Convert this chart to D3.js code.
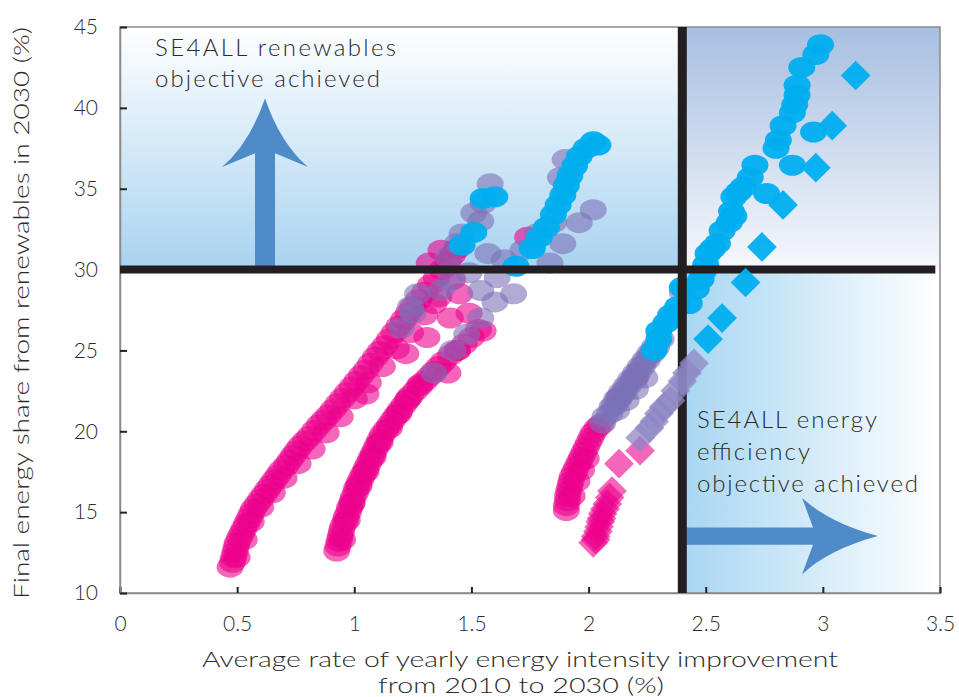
<!DOCTYPE html>
<html><head><meta charset="utf-8">
<script src="https://cdn.jsdelivr.net/npm/d3@7"></script>
<style>
body{margin:0;background:#fff;}
text{font-family:Lato,"Open Sans",sans-serif;font-weight:300;fill:#2b2b2b;}
</style></head><body>
<svg id="chart" width="959" height="697"></svg>
<script>
// Axis ticks and labels
const xTicks = [0, 0.5, 1, 1.5, 2, 2.5, 3, 3.5];
const xTickLabels = ["0", "0.5", "1", "1.5", "2", "2.5", "3", "3.5"];
const yTicks = [10, 15, 20, 25, 30, 35, 40, 45];
const yTickLabels = ["10", "15", "20", "25", "30", "35", "40", "45"];

// SE4ALL objectives
const renewablesTarget = 30;   // % share of renewables in 2030
const efficiencyTarget = 2.4;  // % yearly energy intensity improvement

// Scenario results: [intensity improvement %, renewables share %]
const pinkCircles = [
  // low-efficiency pathway
  [0.47,11.6],[0.48,11.9],[0.485,12.2],[0.49,12.5],[0.495,12.8],[0.50,13.1],[0.51,13.4],[0.52,13.7],
  [0.53,14.0],[0.54,14.3],[0.55,14.6],[0.56,14.9],[0.57,15.2],[0.585,15.5],[0.60,15.8],[0.615,16.1],
  [0.63,16.4],[0.645,16.7],[0.66,17.0],[0.675,17.3],[0.69,17.6],[0.71,17.9],[0.725,18.2],[0.74,18.5],
  [0.755,18.8],[0.77,19.1],[0.79,19.4],[0.81,19.7],[0.83,20.05],[0.85,20.4],[0.87,20.7],[0.89,21.0],
  [0.91,21.35],[0.93,21.7],[0.95,22.05],[0.97,22.4],[0.99,22.75],[1.01,23.1],[1.03,23.45],[1.05,23.8],
  [1.07,24.2],[1.09,24.6],[1.11,24.95],[1.13,25.3],[1.15,25.7],[1.17,26.1],[1.19,26.5],[1.21,26.9],
  [1.23,27.3],[1.25,27.7],[1.275,28.15],[1.30,28.6],[1.325,29.05],[1.35,29.5],[1.375,30.0],[1.40,30.5],
  [1.42,30.9],[1.44,31.3],[1.37,31.2],
  [0.50,12.2],[0.53,13.3],[0.56,14.4],[0.60,15.3],[0.65,16.2],[0.70,17.1],[0.76,18.0],[0.82,18.9],
  [0.88,19.9],[0.94,20.9],[1.00,22.0],[1.06,23.0],[1.12,24.0],[1.18,25.1],[1.24,26.1],[1.30,27.2],
  [1.36,28.3],[1.42,29.4],
  // medium-efficiency pathway
  [0.925,12.6],[0.93,12.9],[0.935,13.2],[0.94,13.5],[0.945,13.8],[0.95,14.1],[0.96,14.4],[0.965,14.7],
  [0.975,15.0],[0.98,15.3],[0.99,15.6],[0.995,15.9],[1.005,16.2],[1.01,16.5],[1.02,16.8],[1.03,17.1],
  [1.04,17.4],[1.05,17.7],[1.06,18.0],[1.07,18.3],[1.08,18.6],[1.09,18.9],[1.10,19.2],[1.11,19.5],
  [1.12,19.8],[1.135,20.1],[1.15,20.4],[1.165,20.7],[1.18,21.0],[1.195,21.3],[1.21,21.6],[1.225,21.9],
  [1.24,22.2],[1.26,22.5],[1.28,22.8],[1.30,23.1],[1.32,23.4],[1.34,23.7],[1.36,24.0],[1.38,24.3],
  [1.41,24.7],[1.44,25.0],[1.47,25.4],[1.50,25.8],[1.53,26.3],
  [0.95,13.3],[0.97,14.5],[0.99,15.5],[1.02,16.6],[1.05,17.5],[1.08,18.4],[1.11,19.3],[1.15,20.2],
  [1.19,21.1],[1.23,22.0],[1.28,22.9],
  [1.31,25.8],[1.22,24.8],[1.34,27.9],[1.41,27.0],[1.45,28.5],[1.49,27.3],[1.55,26.2],[1.44,25.0],
  [1.40,23.6],[1.74,32.0],[1.32,30.4],[1.05,22.3],
  // high-efficiency pathway
  [1.905,15.1],[1.905,15.4],[1.91,15.7],[1.91,16.0],[1.915,16.3],[1.92,16.6],[1.925,16.9],[1.93,17.2],
  [1.94,17.5],[1.95,17.8],[1.96,18.1],[1.97,18.4],[1.98,18.7],[1.99,19.0],[2.00,19.3],[2.01,19.6],
  [2.02,19.9],[2.035,20.2],[2.05,20.4],[1.93,16.0],[1.95,16.9],[1.97,17.6],[1.99,18.3],[2.13,22.1],
  [2.20,23.3]
];
const purpleCircles = [
  [1.58,35.3],[1.55,34.1],[1.51,33.5],[1.54,33.0],[1.46,32.2],[1.57,31.0],[1.44,31.6],[1.40,30.75],
  [1.41,29.3],[1.49,29.8],[1.54,28.7],[1.68,28.5],[1.61,29.5],[1.54,27.0],[1.48,26.0],[1.27,28.5],
  [1.24,27.7],[1.20,26.4],[1.37,28.7],[1.25,27.3],[1.42,25.0],[1.34,23.6],[1.72,31.2],[1.78,32.2],
  [1.85,32.9],[1.88,35.7],[1.90,36.8],[1.835,30.4],[2.02,33.7],[1.96,32.9],[1.89,31.6],[1.64,30.6],
  [1.60,28.0],
  [2.06,20.5],[2.07,20.9],[2.09,21.1],[2.10,21.5],[2.11,21.6],[2.12,22.0],[2.13,22.0],[2.14,22.4],
  [2.15,22.4],[2.16,22.8],[2.17,22.8],[2.18,23.2],[2.19,23.2],[2.20,23.6],[2.21,23.6],[2.22,24.0],
  [2.23,24.0],[2.24,24.4],[2.25,24.4],[2.26,24.8],[2.27,24.8],[2.28,25.2],[2.29,25.2],[2.31,25.7],
  [2.12,21.3],[2.16,21.9],[2.20,22.6],[2.24,23.3],[2.36,27.0],[2.40,28.6]
];
const cyanCircles = [
  [1.55,34.4],[1.60,34.5],[1.51,32.3],[1.46,31.5],
  [1.69,30.2],[1.76,31.3],[1.79,32.0],[1.82,32.6],[1.85,33.4],[1.87,34.0],[1.89,34.6],[1.905,35.2],
  [1.92,35.8],[1.94,36.4],[1.96,37.0],[1.99,37.5],[2.02,37.9],[2.04,37.7],
  [2.28,25.0],[2.30,25.7],[2.30,26.2],[2.33,26.7],[2.35,27.2],[2.38,27.7],[2.43,27.9],[2.40,28.9],
  [2.46,28.8],[2.48,29.4],[2.49,29.9],[2.50,30.3],[2.51,31.0],[2.53,31.3],[2.55,31.6],[2.57,32.4],
  [2.60,32.9],[2.62,33.3],[2.61,33.6],[2.62,34.5],[2.64,34.8],[2.66,35.1],[2.69,35.7],[2.71,36.45],
  [2.76,34.7],[2.80,37.5],[2.81,38.0],[2.83,38.9],[2.87,36.45],[2.87,39.7],[2.88,40.2],[2.89,40.8],
  [2.89,41.4],[2.91,42.5],[2.96,38.5],[2.97,43.3],[2.99,43.9]
];
const pinkDiamonds = [
  [2.22,18.8],[2.13,18.0],[2.10,16.3],[2.09,15.9],[2.08,15.5],[2.07,15.2],[2.06,14.9],[2.055,14.6],
  [2.05,14.4],[2.045,14.1],[2.04,13.8],[2.03,13.5],[2.03,13.3],[2.02,13.1]
];
const purpleDiamonds = [
  [2.45,24.2],[2.42,23.6],[2.40,23.1],[2.37,22.5],[2.35,21.9],[2.32,21.5],[2.30,21.1],[2.28,20.6],
  [2.26,20.2],[2.22,19.6]
];
const cyanDiamonds = [
  [3.14,42.0],[3.04,38.9],[2.97,36.3],[2.83,34.0],[2.74,31.4],[2.67,29.2],[2.57,27.0],[2.51,25.7]
];

const svg = d3.select("#chart");
const x = d3.scaleLinear().domain([0, 3.5]).range([120, 940]);
const y = d3.scaleLinear().domain([10, 45]).range([593, 27]);

// Shaded objective regions
const defs = svg.append("defs");
function grad(id, x1, y1, x2, y2, stops) {
  const g = defs.append("linearGradient").attr("id", id)
    .attr("x1", x1).attr("y1", y1).attr("x2", x2).attr("y2", y2);
  stops.forEach(([o, c]) => g.append("stop").attr("offset", o).attr("stop-color", c));
}
grad("gRenew", 0, 0, 0, 1, [[0, "#ffffff"], [1, "#a8d3f0"]]);
grad("gBoth", 0, 0, 0, 1, [[0, "#a7bfe1"], [1, "#f6f8fc"]]);
grad("gEff", 0, 0, 1, 0, [[0, "#a8d6f2"], [1, "#ffffff"]]);

svg.append("rect").attr("x", x(0)).attr("y", y(45))
  .attr("width", x(efficiencyTarget) - x(0)).attr("height", y(renewablesTarget) - y(45))
  .attr("fill", "url(#gRenew)");
svg.append("rect").attr("x", x(efficiencyTarget)).attr("y", y(45))
  .attr("width", x(3.5) - x(efficiencyTarget)).attr("height", y(renewablesTarget) - y(45))
  .attr("fill", "url(#gBoth)");
svg.append("rect").attr("x", x(efficiencyTarget)).attr("y", y(renewablesTarget))
  .attr("width", x(3.5) - x(efficiencyTarget)).attr("height", y(10) - y(renewablesTarget))
  .attr("fill", "url(#gEff)");

// Direction arrows (data units)
const arrowColor = "#4f8bc9";
{
  const cx = 0.619, tip = 40.6, corner = 36.34, notch = 37.2, hw = 0.1835, sw = 0.0427;
  const p = d3.path();
  p.moveTo(x(cx), y(tip));
  p.quadraticCurveTo(x(cx - hw * 0.35), y(corner + (tip - corner) * 0.35), x(cx - hw), y(corner));
  p.lineTo(x(cx - sw), y(notch));
  p.lineTo(x(cx - sw), y(renewablesTarget));
  p.lineTo(x(cx + sw), y(renewablesTarget));
  p.lineTo(x(cx + sw), y(notch));
  p.lineTo(x(cx + hw), y(corner));
  p.quadraticCurveTo(x(cx + hw * 0.35), y(corner + (tip - corner) * 0.35), x(cx), y(tip));
  p.closePath();
  svg.append("path").attr("d", p.toString()).attr("fill", arrowColor);
}
{
  const cy = 13.52, tip = 3.235, corner = 2.911, notch = 2.958, hh = 2.37, sh = 0.53;
  const p = d3.path();
  p.moveTo(x(tip), y(cy));
  p.quadraticCurveTo(x(corner + (tip - corner) * 0.35), y(cy + hh * 0.35), x(corner), y(cy + hh));
  p.lineTo(x(notch), y(cy + sh));
  p.lineTo(x(efficiencyTarget), y(cy + sh));
  p.lineTo(x(efficiencyTarget), y(cy - sh));
  p.lineTo(x(notch), y(cy - sh));
  p.lineTo(x(corner), y(cy - hh));
  p.quadraticCurveTo(x(corner + (tip - corner) * 0.35), y(cy - hh * 0.35), x(tip), y(cy));
  p.closePath();
  svg.append("path").attr("d", p.toString()).attr("fill", arrowColor);
}

// Frame
svg.append("rect").attr("x", x(0)).attr("y", y(45))
  .attr("width", x(3.5) - x(0)).attr("height", y(10) - y(45))
  .attr("fill", "none").attr("stroke", "#8a8a8a").attr("stroke-width", 1.5);

// Axes
const xAxis = svg.append("g").attr("transform", `translate(0,${y(10)})`)
  .call(d3.axisBottom(x).tickValues(xTicks).tickSize(-6).tickPadding(23)
    .tickFormat((d, i) => xTickLabels[i]));
xAxis.select(".domain").attr("stroke", "#8a8a8a").attr("stroke-width", 1.5);
xAxis.selectAll(".tick line").attr("stroke", "#222").attr("stroke-width", 2);
xAxis.selectAll(".tick text").style("font-size", "21px").attr("fill", "#2b2b2b");

const yAxis = svg.append("g").attr("transform", `translate(${x(0)},0)`)
  .call(d3.axisLeft(y).tickValues(yTicks).tickSize(-7).tickPadding(22)
    .tickFormat((d, i) => yTickLabels[i]));
yAxis.select(".domain").attr("stroke", "#8a8a8a").attr("stroke-width", 1.5);
yAxis.selectAll(".tick line").attr("stroke", "#222").attr("stroke-width", 2);
yAxis.selectAll(".tick text").style("font-size", "21px").attr("fill", "#2b2b2b");

// Scenario circles
function circles(data, fill, op) {
  svg.append("g").selectAll("ellipse").data(data).join("ellipse")
    .attr("cx", d => x(d[0])).attr("cy", d => y(d[1]))
    .attr("rx", 13.5).attr("ry", 10.5)
    .attr("fill", fill).attr("fill-opacity", op);
}
circles(pinkCircles, "#ec008c", 0.6);
circles(purpleCircles, "#7c72b8", 0.6);
circles(cyanCircles, "#00aeef", 0.95);

// Objective lines
svg.append("line").attr("x1", x(0)).attr("x2", x(3.48))
  .attr("y1", y(renewablesTarget)).attr("y2", y(renewablesTarget))
  .attr("stroke", "#231f20").attr("stroke-width", 8);
svg.append("line").attr("x1", x(efficiencyTarget)).attr("x2", x(efficiencyTarget))
  .attr("y1", y(10)).attr("y2", y(45))
  .attr("stroke", "#231f20").attr("stroke-width", 9);

// Scenario diamonds
function diamonds(data, fill, op) {
  svg.append("g").selectAll("path").data(data).join("path")
    .attr("d", d3.symbol(d3.symbolSquare, 441))
    .attr("transform", d => `translate(${x(d[0])},${y(d[1])}) rotate(45)`)
    .attr("fill", fill).attr("fill-opacity", op);
}
diamonds(pinkDiamonds, "#ec008c", 0.6);
diamonds(purpleDiamonds, "#8d86c4", 0.75);
diamonds(cyanDiamonds, "#00aeef", 0.95);

// Region labels
const lab = svg.append("g").style("font-size", "24px");
function label(tx, ty, len, str) {
  lab.append("text").attr("x", tx).attr("y", ty)
    .attr("textLength", len).attr("lengthAdjust", "spacing").text(str);
}
label(155, 56, 241, "SE4ALL renewables");
label(155, 87, 225, "objective achieved");
label(697, 428, 180, "SE4ALL energy");
label(697, 460, 113, "efficiency");
label(697, 492, 221, "objective achieved");

// Axis titles
svg.append("text").attr("x", 520).attr("y", 667).attr("text-anchor", "middle")
  .style("font-size", "22px").attr("textLength", 636).attr("lengthAdjust", "spacingAndGlyphs")
  .text("Average rate of yearly energy intensity improvement");
svg.append("text").attr("x", 521).attr("y", 693).attr("text-anchor", "middle")
  .style("font-size", "22px").attr("textLength", 286).attr("lengthAdjust", "spacingAndGlyphs")
  .text("from 2010 to 2030 (%)");
svg.append("text").attr("transform", "translate(29,313) rotate(-90)").attr("text-anchor", "middle")
  .style("font-size", "22px").attr("textLength", 572).attr("lengthAdjust", "spacingAndGlyphs")
  .text("Final energy share from renewables in 2030 (%)");
</script>
</body></html>
